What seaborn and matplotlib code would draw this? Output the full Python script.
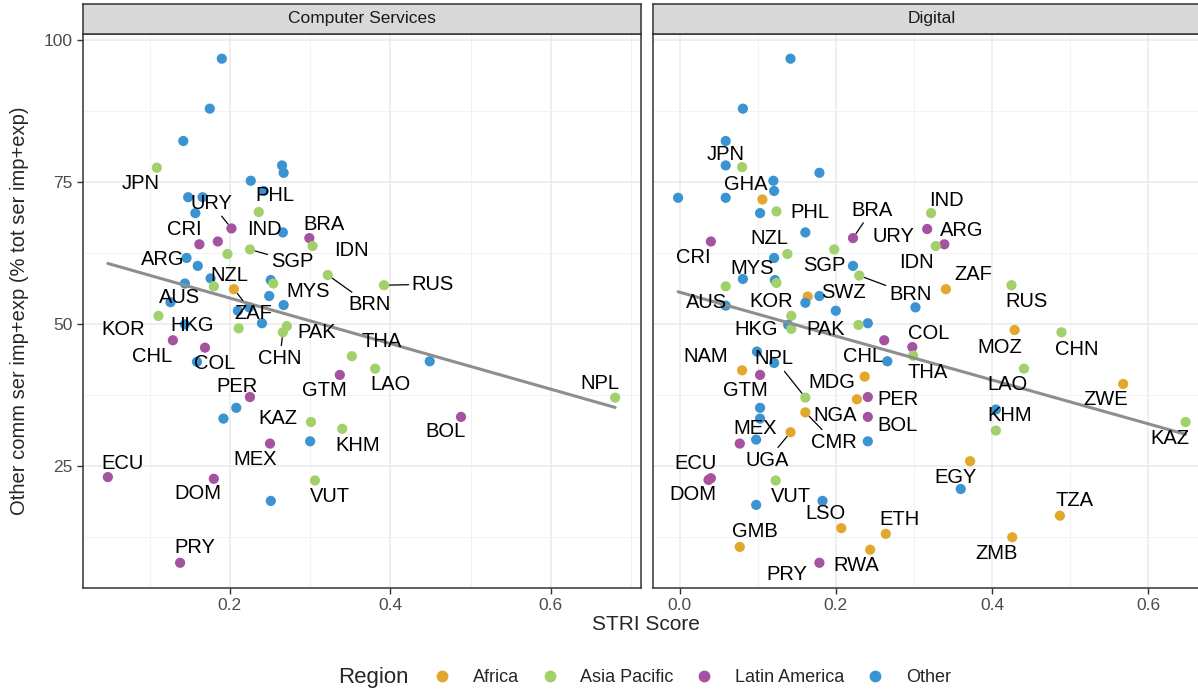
import pandas as pd
import matplotlib
matplotlib.use('Agg')
import matplotlib.pyplot as plt
from matplotlib.lines import Line2D
from matplotlib.ticker import MultipleLocator, FormatStrFormatter
import seaborn as sns

regions = ['Africa', 'Asia Pacific', 'Latin America', 'Other']
region_colors = ['#E3A82B', '#A2D06B', '#A552A0', '#3B94D1']
short = {'AF': 'Africa', 'AP': 'Asia Pacific', 'LA': 'Latin America', 'OT': 'Other'}

# Computer Services panel
cs_code = ['', '', '', 'JPN', '', '', '', '', '', '', '', 'PHL', 'URY', '', 'BRA', 'IDN',
           'CRI', 'ARG', 'SGP', 'IND', '', '', '', '', 'NZL', 'ZAF', '', 'MYS', '', 'BRN',
           'RUS', 'HKG', '', 'AUS', 'KOR', '', '', '', '', 'PAK', 'CHN', 'CHL', 'COL', '',
           'THA', '', 'LAO', 'GTM', 'NPL', 'BOL', 'KAZ', 'KHM', 'PER', '', '', 'MEX', '',
           'ECU', 'DOM', 'VUT', '', 'PRY']
cs_region = ['OT', 'OT', 'OT', 'AP', 'OT', 'OT', 'OT', 'OT', 'OT', 'OT', 'OT', 'AP', 'LA', 'OT',
             'LA', 'AP', 'LA', 'LA', 'AP', 'AP', 'OT', 'OT', 'OT', 'OT', 'AP', 'AF', 'OT', 'AP',
             'OT', 'AP', 'AP', 'OT', 'OT', 'AP', 'OT', 'OT', 'OT', 'OT', 'AP', 'AP', 'AP', 'LA',
             'LA', 'OT', 'AP', 'OT', 'AP', 'LA', 'AP', 'LA', 'AP', 'AP', 'LA', 'OT', 'OT', 'LA',
             'OT', 'LA', 'LA', 'AP', 'OT', 'LA']
cs_stri = [0.190, 0.175, 0.142, 0.109, 0.265, 0.267, 0.226, 0.242, 0.148, 0.166, 0.157, 0.236,
           0.202, 0.266, 0.299, 0.303, 0.162, 0.185, 0.225, 0.197, 0.146, 0.160, 0.176, 0.144,
           0.180, 0.205, 0.251, 0.254, 0.249, 0.322, 0.392, 0.126, 0.267, 0.111, 0.144, 0.210,
           0.224, 0.240, 0.211, 0.271, 0.266, 0.129, 0.169, 0.159, 0.352, 0.449, 0.381, 0.337,
           0.680, 0.488, 0.301, 0.340, 0.225, 0.208, 0.192, 0.250, 0.300, 0.048, 0.180, 0.306,
           0.251, 0.138]
cs_share = [96.7, 87.9, 82.2, 77.5, 77.9, 76.6, 75.2, 73.4, 72.3, 72.3, 69.5, 69.7,
            66.8, 66.1, 65.1, 63.7, 64.0, 64.5, 63.1, 62.3, 61.6, 60.2, 58.0, 57.1,
            56.6, 56.1, 57.7, 57.1, 54.9, 58.6, 56.8, 53.8, 53.3, 51.4, 49.9, 52.3,
            52.9, 50.1, 49.2, 49.6, 48.5, 47.1, 45.8, 43.3, 44.3, 43.4, 42.1, 41.0,
            37.0, 33.6, 32.7, 31.5, 37.1, 35.2, 33.3, 28.9, 29.3, 23.0, 22.7, 22.4,
            18.8, 7.9]

# Digital panel
dg_code = ['', '', '', '', 'JPN', '', '', '', '', '', 'GHA', '', 'PHL', '', 'BRA', 'CRI',
           'SGP', 'NZL', '', '', 'BRN', '', '', 'MYS', 'AUS', 'SWZ', '', '', '', '', '',
           'KOR', '', 'PAK', 'IND', 'URY', 'ARG', 'IDN', 'ZAF', 'RUS', 'MOZ', 'CHN', 'CHL',
           'COL', 'THA', '', 'LAO', 'ZWE', '', 'KHM', 'KAZ', '', 'HKG', '', '', 'NAM', 'GTM',
           'MDG', 'NPL', 'NGA', 'PER', '', '', 'CMR', 'BOL', 'UGA', 'MEX', '', '', 'ECU',
           'DOM', 'VUT', '', '', 'LSO', 'ETH', 'RWA', 'GMB', 'PRY', 'EGY', '', 'TZA', 'ZMB']
dg_region = ['OT', 'OT', 'OT', 'OT', 'AP', 'OT', 'OT', 'OT', 'OT', 'OT', 'AF', 'OT', 'AP', 'OT',
             'LA', 'LA', 'AP', 'AP', 'OT', 'OT', 'AP', 'OT', 'OT', 'AP', 'AP', 'AF', 'OT', 'OT',
             'OT', 'OT', 'OT', 'AP', 'OT', 'AP', 'AP', 'LA', 'LA', 'AP', 'AF', 'AP', 'AF', 'AP',
             'LA', 'LA', 'AP', 'OT', 'AP', 'AF', 'OT', 'AP', 'AP', 'OT', 'AP', 'OT', 'OT', 'AF',
             'LA', 'AF', 'AP', 'AF', 'LA', 'OT', 'OT', 'AF', 'LA', 'AF', 'LA', 'OT', 'OT', 'LA',
             'LA', 'AP', 'OT', 'OT', 'AF', 'AF', 'AF', 'AF', 'LA', 'AF', 'OT', 'AF', 'AF']
dg_stri = [0.142, 0.081, 0.059, 0.059, 0.080, 0.179, 0.120, 0.121, -0.002, 0.059, 0.106, 0.103,
           0.124, 0.161, 0.222, 0.040, 0.198, 0.138, 0.121, 0.222, 0.230, 0.081, 0.122, 0.124,
           0.059, 0.164, 0.179, 0.161, 0.059, 0.200, 0.302, 0.143, 0.241, 0.229, 0.322, 0.317,
           0.339, 0.328, 0.341, 0.425, 0.429, 0.489, 0.262, 0.298, 0.299, 0.266, 0.441, 0.568,
           0.405, 0.405, 0.648, 0.139, 0.143, 0.099, 0.121, 0.080, 0.103, 0.237, 0.161, 0.227,
           0.241, 0.103, 0.103, 0.161, 0.241, 0.142, 0.077, 0.098, 0.241, 0.040, 0.037, 0.123,
           0.098, 0.183, 0.207, 0.264, 0.244, 0.077, 0.179, 0.372, 0.360, 0.487, 0.426]
dg_share = [96.7, 87.9, 82.2, 77.9, 77.6, 76.6, 75.2, 73.4, 72.2, 72.2, 71.9, 69.5,
            69.8, 66.1, 65.1, 64.5, 63.1, 62.3, 61.6, 60.2, 58.5, 57.9, 57.7, 57.2,
            56.6, 54.8, 54.9, 53.7, 53.2, 52.3, 52.9, 51.4, 50.1, 49.8, 69.5, 66.7,
            64.0, 63.7, 56.1, 56.8, 48.9, 48.5, 47.1, 45.9, 44.4, 43.4, 42.1, 39.4,
            34.9, 31.2, 32.7, 49.8, 49.1, 45.1, 43.1, 41.8, 41.0, 40.7, 37.0, 36.7,
            37.1, 35.2, 33.3, 34.4, 33.6, 30.9, 28.9, 29.6, 29.3, 22.8, 22.5, 22.4,
            18.1, 18.8, 14.0, 13.0, 10.2, 10.7, 7.9, 25.8, 20.9, 16.2, 12.4]

# label placement (pixel offsets from the point, y up) and whether a leader segment is drawn
cs_offsets = {
    'JPN': (-16, -16, False), 'URY': (-20, 25, True), 'PHL': (16, 16, False),
    'CRI': (-15, 15, False), 'IND': (37, 24, False), 'BRA': (15, 14, False),
    'IDN': (39, -4, False), 'ARG': (-55, -18, False), 'SGP': (42, -12, True),
    'NZL': (15, 11, False), 'ZAF': (19, -24, True), 'MYS': (35, -8, False),
    'BRN': (42, -30, True), 'RUS': (49, 1, True), 'HKG': (22, -23, False),
    'AUS': (21, 18, False), 'KOR': (-62, -5, False), 'PAK': (30, -6, False),
    'CHN': (-3, -26, True), 'CHL': (-21, -16, False), 'COL': (10, -16, False),
    'THA': (30, 15, False), 'LAO': (15, -16, False), 'GTM': (-15, -16, False),
    'NPL': (-15, 14, False), 'BOL': (-16, -15, False), 'KAZ': (-33, 4, False),
    'KHM': (15, -17, False), 'PER': (-13, 11, False), 'MEX': (-15, -16, False),
    'ECU': (15, 14, False), 'DOM': (-16, -15, False), 'VUT': (15, -16, False),
    'PRY': (15, 15, False),
}
dg_offsets = {
    'JPN': (-16, 13, False), 'GHA': (-17, 15, False), 'PHL': (33, -1, False),
    'BRA': (19, 28, True), 'URY': (-34, -7, False), 'NZL': (-18, 15, False),
    'CRI': (-18, -16, False), 'SGP': (-10, -16, False), 'MYS': (-24, 14, False),
    'IDN': (-19, -16, False), 'IND': (15, 13, False), 'ARG': (17, 14, False),
    'ZAF': (27, 15, False), 'BRN': (51, -19, True), 'SWZ': (36, 4, False),
    'RUS': (15, -16, False), 'AUS': (-19, -16, False), 'KOR': (-20, 14, False),
    'HKG': (-35, -1, False), 'PAK': (-33, -5, False), 'COL': (16, 14, False),
    'MOZ': (-15, -17, False), 'CHN': (15, -17, False), 'CHL': (-21, -16, False),
    'NAM': (-36, 14, False), 'NPL': (-31, 39, True), 'THA': (15, -17, False),
    'MDG': (-33, -6, False), 'GTM': (-15, -16, False), 'LAO': (-16, -16, False),
    'PER': (30, -2, False), 'ZWE': (-17, -16, False), 'NGA': (-22, -16, False),
    'KHM': (14, 15, False), 'BOL': (30, -9, False), 'KAZ': (-16, -16, False),
    'MEX': (15, 15, False), 'CMR': (29, -30, True), 'UGA': (-23, -28, True),
    'ECU': (-15, 15, False), 'DOM': (-16, -15, False), 'VUT': (15, -16, False),
    'EGY': (-15, -16, False), 'LSO': (-16, 15, False), 'ETH': (14, 14, False),
    'TZA': (15, 15, False), 'GMB': (15, 15, False), 'ZMB': (-16, -16, False),
    'RWA': (-14, -16, False), 'PRY': (-33, -12, False),
}

cs = pd.DataFrame({'code': cs_code, 'region': [short[r] for r in cs_region],
                   'stri': cs_stri, 'share': cs_share})
dg = pd.DataFrame({'code': dg_code, 'region': [short[r] for r in dg_region],
                   'stri': dg_stri, 'share': dg_share})

sns.set_theme(style='white')
plt.rcParams['font.family'] = ['Liberation Sans', 'DejaVu Sans']

W, H = 1198, 689
fig = plt.figure(figsize=(W / 100, H / 100), dpi=100)

y_lo = min(cs.share.min(), dg.share.min())
y_hi = max(cs.share.max(), dg.share.max())
pad_y = (y_hi - y_lo) * 0.05
ylim = (y_lo - pad_y, y_hi + pad_y)

ax1 = fig.add_axes([82.5 / W, 1 - 588 / H, 558 / W, 554.5 / H])
ax2 = fig.add_axes([652.7 / W, 1 - 588 / H, 558.3 / W, 554.5 / H])

palette = dict(zip(regions, region_colors))


def draw_panel(ax, df, offsets, title, show_y):
    ax.set_facecolor('white')
    sns.scatterplot(data=df, x='stri', y='share', hue='region', hue_order=regions,
                    palette=palette, s=54, linewidth=0, legend=False, ax=ax, zorder=3)
    sns.regplot(data=df, x='stri', y='share', scatter=False, ci=None, color='#8e8e8e',
                line_kws={'lw': 2.2, 'zorder': 4}, ax=ax)
    for _, row in df.iterrows():
        if row.code not in offsets:
            continue
        dx, dy, seg = offsets[row.code]
        kw = {}
        if seg:
            kw['arrowprops'] = dict(arrowstyle='-', color='black', lw=0.9,
                                    shrinkA=0, shrinkB=4)
        ax.annotate(row.code, xy=(row.stri, row.share), xytext=(dx, dy),
                    textcoords='offset pixels', ha='center', va='center',
                    fontsize=14.5, color='black', zorder=5, **kw)

    x_lo, x_hi = df.stri.min(), df.stri.max()
    pad_x = (x_hi - x_lo) * 0.05
    ax.set_xlim(x_lo - pad_x, x_hi + pad_x)
    ax.set_ylim(*ylim)
    ax.xaxis.set_major_locator(MultipleLocator(0.2))
    ax.xaxis.set_minor_locator(MultipleLocator(0.1))
    ax.xaxis.set_major_formatter(FormatStrFormatter('%.1f'))
    ax.yaxis.set_major_locator(MultipleLocator(25))
    ax.yaxis.set_minor_locator(MultipleLocator(12.5))
    ax.grid(which='major', color='#ebebeb', lw=1.2)
    ax.grid(which='minor', color='#f2f2f2', lw=0.7)
    ax.set_axisbelow(True)
    ax.set_xlabel('')
    ax.set_ylabel('')
    ax.tick_params(which='major', length=4, width=1, color='#333333',
                   labelcolor='#4d4d4d', labelsize=12.5, pad=3,
                   bottom=True, left=show_y, labelleft=show_y)
    ax.tick_params(which='minor', length=0)
    for sp in ax.spines.values():
        sp.set_visible(True)
        sp.set_color('#333333')
        sp.set_linewidth(1.1)

    pos = ax.get_position()
    sax = fig.add_axes([pos.x0, pos.y1, pos.width, 29.8 / H])
    sax.set_facecolor('#d9d9d9')
    sax.set_xticks([])
    sax.set_yticks([])
    for sp in sax.spines.values():
        sp.set_color('#333333')
        sp.set_linewidth(1.1)
    sax.text(0.5, 0.5, title, ha='center', va='center', fontsize=12.5,
             color='#1a1a1a', transform=sax.transAxes)


draw_panel(ax1, cs, cs_offsets, 'Computer Services', True)
draw_panel(ax2, dg, dg_offsets, 'Digital', False)

fig.text(20 / W, 1 - 311 / H, 'Other comm ser imp+exp (% tot ser imp+exp)',
         rotation=90, ha='center', va='center', fontsize=14.5)
fig.text(646 / W, 1 - 625 / H, 'STRI Score', ha='center', va='center', fontsize=15)

# legend
fig.text(338 / W, 1 - 678 / H, 'Region', ha='left', va='center', fontsize=16)
handles = [Line2D([], [], marker='o', ls='', markersize=8.5, markerfacecolor=c,
                  markeredgewidth=0) for c in region_colors]
fig.legend(handles, regions, loc='center left', bbox_to_anchor=(433 / W, 1 - 678 / H),
           ncol=4, frameon=False, fontsize=13, handlelength=1.0, handletextpad=1.2,
           columnspacing=1.2, borderaxespad=0, borderpad=0)

fig.savefig('out.png', dpi=100)
plt.close()
